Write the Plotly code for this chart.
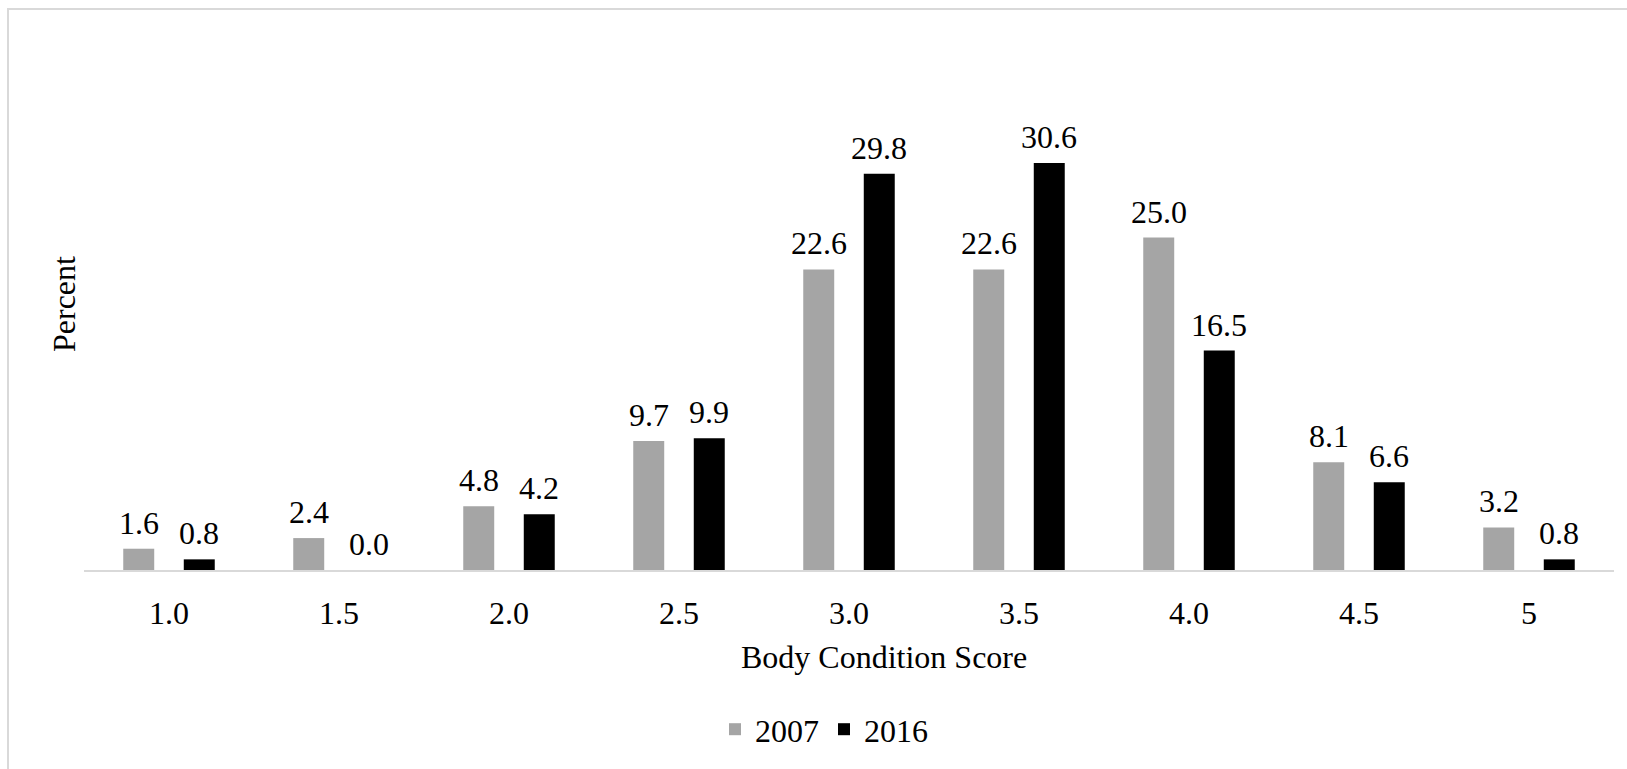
import plotly.graph_objects as go

# Body condition score distribution, 2007 vs 2016
categories = ["1.0", "1.5", "2.0", "2.5", "3.0", "3.5", "4.0", "4.5", "5"]
pct_2007 = [1.6, 2.4, 4.8, 9.7, 22.6, 22.6, 25.0, 8.1, 3.2]
pct_2016 = [0.8, 0.0, 4.2, 9.9, 29.8, 30.6, 16.5, 6.6, 0.8]

W, H = 1627, 769
L, R, T, B = 84, 13, 38, 197
FONT = "Liberation Serif, Times New Roman, serif"
FS = 32
pw = W - L - R
ph = H - T - B


def px_x(p):
    return (p - L) / pw


def px_y(p):
    return (H - B - p) / ph


fig = go.Figure()
fig.add_trace(go.Bar(x=categories, y=pct_2007, name="2007",
                     marker=dict(color="#a5a5a5", line=dict(width=0))))
fig.add_trace(go.Bar(x=categories, y=pct_2016, name="2016",
                     marker=dict(color="#000000", line=dict(width=0))))

# value labels above each bar (x given as category index)
for vals, shift in ((pct_2007, -30.25), (pct_2016, 30.25)):
    for i, v in enumerate(vals):
        fig.add_annotation(x=i, y=v, text=f"{v:.1f}", showarrow=False,
                           xshift=shift, yanchor="bottom", yshift=6,
                           font=dict(family=FONT, size=FS, color="#000000"))

# axis titles
fig.add_annotation(xref="paper", yref="paper", x=px_x(64), y=0.5,
                   text="Percent", textangle=-90, showarrow=False,
                   xanchor="center", yanchor="middle",
                   font=dict(family=FONT, size=FS, color="#000000"))
fig.add_annotation(xref="paper", yref="paper", x=px_x(884), y=px_y(659),
                   text="Body Condition Score", showarrow=False,
                   xanchor="center", yanchor="middle",
                   font=dict(family=FONT, size=FS, color="#000000"))

# chart frame
fig.add_shape(type="rect", xref="paper", yref="paper",
              x0=px_x(8), x1=px_x(W + 20), y0=px_y(H + 20), y1=px_y(9),
              line=dict(color="#d9d9d9", width=2), fillcolor="rgba(0,0,0,0)",
              layer="below")

fig.update_layout(
    width=W, height=H,
    margin=dict(l=L, r=R, t=T, b=B, pad=0),
    paper_bgcolor="#ffffff", plot_bgcolor="#ffffff",
    barmode="group", bargap=0.288, bargroupgap=0.488,
    font=dict(family=FONT, size=FS, color="#000000"),
    showlegend=True,
    legend=dict(orientation="h", x=px_x(824), xanchor="center",
                y=px_y(732), yanchor="middle",
                font=dict(family=FONT, size=FS, color="#000000"),
                bgcolor="rgba(0,0,0,0)", itemwidth=30),
    xaxis=dict(type="category", showgrid=False, zeroline=False,
               showline=True, linecolor="#d9d9d9", linewidth=1.5,
               ticks="", ticklabelstandoff=14,
               tickfont=dict(family=FONT, size=FS, color="#000000")),
    yaxis=dict(range=[0, 40], showgrid=False, zeroline=False,
               showline=False, showticklabels=False, ticks=""),
)

fig.write_html("out.html")
